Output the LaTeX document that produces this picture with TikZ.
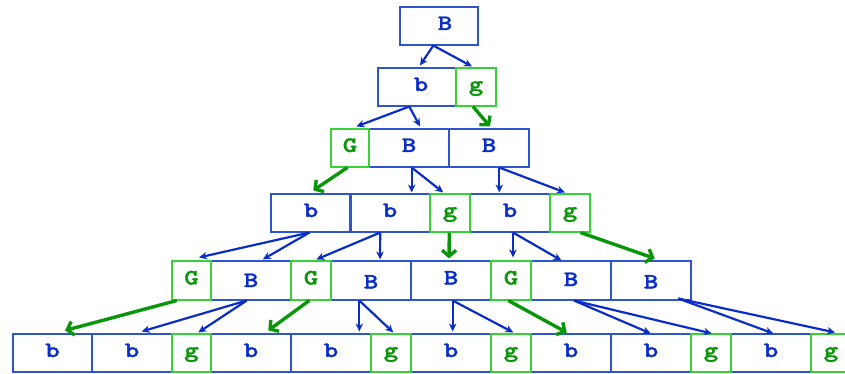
\documentclass[tikz,border=0pt]{standalone}
\usepackage{fontspec}
\newfontfamily\courfont{lmmonolt10-bold.otf}[FakeBold=1.5,FakeStretch=1.25]
\usetikzlibrary{arrows.meta,calc}
\definecolor{boxblue}{RGB}{45,85,205}
\definecolor{txtblue}{RGB}{10,45,200}
\definecolor{boxgreen}{RGB}{55,210,55}
\definecolor{txtgreen}{RGB}{10,150,10}
\tikzset{
  cell/.style={draw, line width=1.1pt, minimum height=38pt, inner sep=0pt, anchor=center,
    font=\courfont\fontsize{22}{22}\selectfont, text height=12pt, text depth=4pt},
  bcell/.style={cell, draw=boxblue, text=txtblue, minimum width=80pt},
  gcell/.style={cell, draw=boxgreen, text=txtgreen, minimum width=40pt},
  barrow/.style={draw=txtblue, line width=2.2pt, -{Stealth[length=8pt,width=7.5pt]}},
  garrow/.style={draw=txtgreen, line width=3.4pt, -{Straight Barb[length=6pt,width=14pt]}}
}
\begin{document}
\begin{tikzpicture}[x=1pt,y=-1pt]
\useasboundingbox (0,0) rectangle (845,374);
% row 0
\node[bcell, minimum width=78pt] (r0) at (439,26) {\hspace{12pt}B};
% row 1
\node[bcell, minimum width=78pt] (r1b) at (417,87) {\hspace{8pt}b};
\node[gcell] (r1g) at (476,87) {g};
% row 2
\node[bcell] (r2B1) at (409,148) {B};
\node[bcell] (r2B2) at (489,148) {B};
\node[gcell, minimum width=38pt] (r2G) at (350,148) {G};
% row 3
\node[bcell] (r3b1) at (311,213) {b};
\node[bcell] (r3b2) at (390,213) {b};
\node[bcell] (r3b3) at (510,213) {b};
\node[gcell] (r3g1) at (450,213) {g};
\node[gcell] (r3g2) at (570,213) {g};
% row 4
\node[bcell, minimum height=39pt, text height=17pt] (r4B1) at (251,280.5) {B};
\node[bcell, minimum height=39pt, text height=20pt] (r4B2) at (371,280.5) {B};
\node[bcell, minimum height=39pt] (r4B3) at (451,280.5) {B};
\node[bcell, minimum height=39pt, text height=15pt] (r4B4) at (571,280.5) {B};
\node[bcell, minimum height=39pt, text height=20pt] (r4B5) at (651,280.5) {B};
\node[gcell, minimum height=39pt, minimum width=39pt] (r4G1) at (191.5,280.5) {G};
\node[gcell, minimum height=39pt] (r4G2) at (311,280.5) {G};
\node[gcell, minimum height=39pt] (r4G3) at (511,280.5) {G};
% row 5
\node[bcell, minimum width=79pt] (r5b1) at (52.5,353) {b};
\node[bcell] (r5b2) at (132,353) {b};
\node[bcell] (r5b3) at (251,353) {b};
\node[bcell] (r5b4) at (331,353) {b};
\node[bcell] (r5b5) at (451,353) {b};
\node[bcell] (r5b6) at (571,353) {b};
\node[bcell] (r5b7) at (651,353) {b};
\node[bcell] (r5b8) at (771,353) {b};
\node[gcell, minimum width=39pt] (r5g1) at (191.5,353) {g};
\node[gcell] (r5g2) at (391,353) {g};
\node[gcell] (r5g3) at (511,353) {g};
\node[gcell] (r5g4) at (711,353) {g};
\node[gcell] (r5g5) at (831,353) {g};
% arrows row 0 -> 1
\draw[barrow] ($(r0.south)+(-5.7,0)$) -- ($(r1b.north)+(3,-2)$);
\draw[barrow] ($(r0.south)+(-5.7,0)$) -- ($(r1g.north)+(-4,-1)$);
% row 1 -> 2
\draw[barrow] ($(r1b.south)+(-7.7,0)$) -- ($(r2G.north)+(6.5,-2)$);
\draw[barrow] ($(r1b.south)+(-7.7,0)$) -- ($(r2B1.north)+(11,-2)$);
\draw[garrow] ($(r1g.south)+(-3,0)$) -- ($(r2B2.north)+(1,-2)$);
% row 2 -> 3
\draw[garrow] ($(r2G.south)+(-2.7,0)$) -- ($(r3b1.north)+(2.3,-3)$);
\draw[barrow] ($(r2B1.south)+(2.7,0)$) -- ($(r3b2.north)+(21.7,-1)$);
\draw[barrow] ($(r2B1.south)+(2.7,0)$) -- ($(r3g1.north)+(-6.7,-1)$);
\draw[barrow] ($(r2B2.south)+(10.3,0)$) -- ($(r3b3.north)+(-10.7,-1)$);
\draw[barrow] ($(r2B2.south)+(10.3,0)$) -- ($(r3g2.north)+(-5,-1)$);
% row 3 -> 4
\draw[barrow] ($(r3b1.south)+(-1.6,0)$) -- ($(r4G1.north)+(7.5,-3)$);
\draw[barrow] ($(r3b1.south)+(-1.6,0)$) -- ($(r4B1.north)+(11.8,-1)$);
\draw[barrow] ($(r3b2.south)+(-9.8,0)$) -- ($(r4G2.north)+(5.3,-1)$);
\draw[barrow] ($(r3b2.south)+(-9.8,0)$) -- ($(r4B2.north)+(9,-1)$);
\draw[garrow] ($(r3g1.south)+(-0.7,0)$) -- ($(r4B3.north)+(-2,-2)$);
\draw[barrow] ($(r3b3.south)+(3,0)$) -- ($(r4G3.north)+(2,-3)$);
\draw[barrow] ($(r3b3.south)+(3,0)$) -- ($(r4B4.north)+(-9.5,0)$);
\draw[garrow] ($(r3g2.south)+(10.5,0)$) -- ($(r4B5.north)+(3.7,-2)$);
% row 4 -> 5
\draw[garrow] ($(r4G1.south)+(-14.8,0)$) -- ($(r5b1.north)+(12.5,-3)$);
\draw[barrow] ($(r4B1.south)+(-4.3,0)$) -- ($(r5b2.north)+(9.7,-2)$);
\draw[barrow] ($(r4B1.south)+(-4.3,0)$) -- ($(r5g1.north)+(6.8,-1)$);
\draw[garrow] ($(r4G2.south)+(-1.7,0)$) -- ($(r5b3.north)+(17.3,-3)$);
\draw[barrow] ($(r4B2.south)+(-11.7,0)$) -- ($(r5b4.north)+(28.3,-2)$);
\draw[barrow] ($(r4B2.south)+(-11.7,0)$) -- ($(r5g2.north)+(2.3,-1)$);
\draw[barrow] ($(r4B3.south)+(1.7,0)$) -- ($(r5b5.north)+(1.7,-2)$);
\draw[barrow] ($(r4B3.south)+(1.7,0)$) -- ($(r5g3.north)+(2.3,-1)$);
\draw[garrow] ($(r4G3.south)+(-2.7,0)$) -- ($(r5b6.north)+(-4.3,-1)$);
\draw[barrow] ($(r4B4.south)+(3,0)$) -- ($(r5b7.north)+(-0.3,0)$);
\draw[barrow] ($(r4B4.south)+(3,0)$) -- ($(r5g4.north)+(0.7,0)$);
\draw[barrow] ($(r4B5.south)+(27.3,-2)$) -- ($(r5b8.north)+(2.3,0)$);
\draw[barrow] ($(r4B5.south)+(27.3,-2)$) -- ($(r5g5.north)+(4,-1)$);
\end{tikzpicture}
\end{document}
